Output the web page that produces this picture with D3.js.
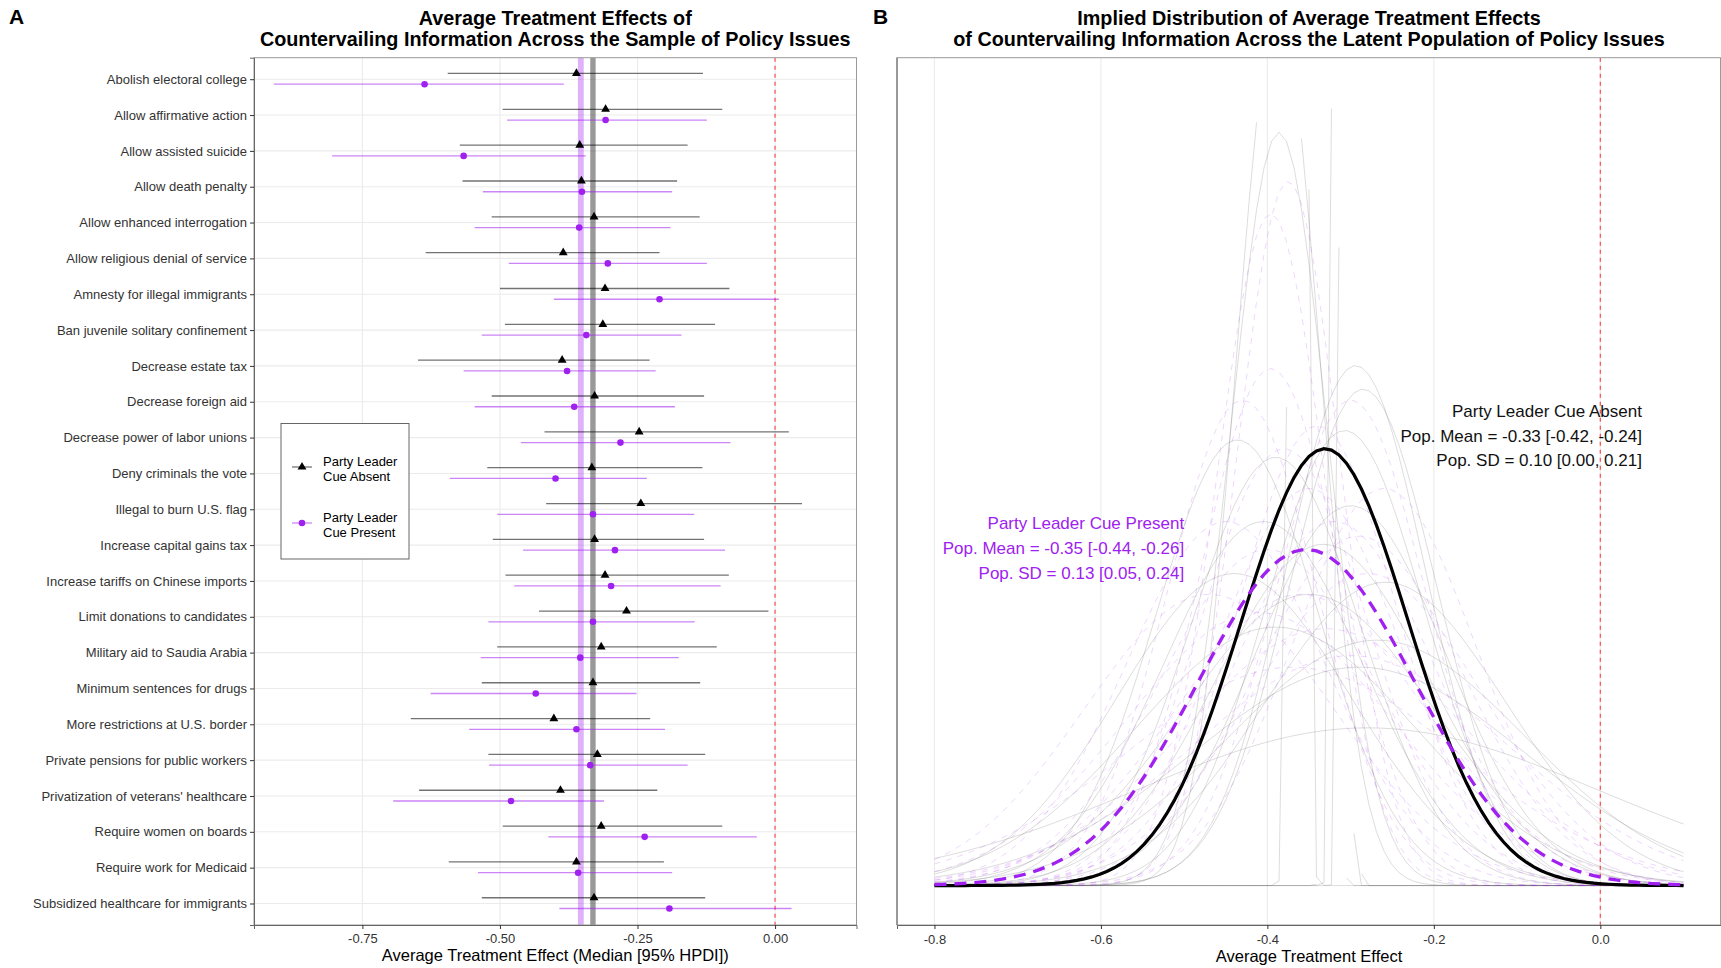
<!DOCTYPE html>
<html>
<head>
<meta charset="utf-8">
<script src="https://cdn.jsdelivr.net/npm/d3@7"></script>
<style>
  body { margin: 0; background: #fff; }
  svg text { font-family: "Liberation Sans", Arial, Helvetica, sans-serif; }
</style>
</head>
<body>
<svg width="1721" height="968"></svg>
<script>
// Policy issues, top to bottom
let issues = [
  "Abolish electoral college", "Allow affirmative action", "Allow assisted suicide",
  "Allow death penalty", "Allow enhanced interrogation", "Allow religious denial of service",
  "Amnesty for illegal immigrants", "Ban juvenile solitary confinement", "Decrease estate tax",
  "Decrease foreign aid", "Decrease power of labor unions", "Deny criminals the vote",
  "Illegal to burn U.S. flag", "Increase capital gains tax", "Increase tariffs on Chinese imports",
  "Limit donations to candidates", "Military aid to Saudia Arabia", "Minimum sentences for drugs",
  "More restrictions at U.S. border", "Private pensions for public workers",
  "Privatization of veterans' healthcare", "Require women on boards",
  "Require work for Medicaid", "Subsidized healthcare for immigrants"
];

// Party leader cue absent: median and 95% HPDI
let absentMed = [-0.361, -0.308, -0.355, -0.352, -0.329, -0.385, -0.309, -0.313, -0.387, -0.328, -0.247, -0.333,
                 -0.244, -0.328, -0.309, -0.270, -0.316, -0.331, -0.402, -0.323, -0.390, -0.316, -0.361, -0.329];
let absentLo  = [-0.595, -0.495, -0.573, -0.568, -0.515, -0.635, -0.500, -0.491, -0.649, -0.515, -0.419, -0.523,
                 -0.416, -0.513, -0.490, -0.429, -0.505, -0.533, -0.662, -0.521, -0.647, -0.495, -0.593, -0.533];
let absentHi  = [-0.131, -0.096, -0.159, -0.178, -0.137, -0.210, -0.083, -0.109, -0.228, -0.129, 0.025, -0.132,
                 0.049, -0.129, -0.084, -0.012, -0.106, -0.136, -0.227, -0.127, -0.214, -0.096, -0.202, -0.127];

// Party leader cue present: median and 95% HPDI
let presentMed = [-0.637, -0.308, -0.566, -0.351, -0.356, -0.304, -0.210, -0.343, -0.378, -0.365, -0.281, -0.399,
                  -0.331, -0.291, -0.298, -0.331, -0.354, -0.435, -0.361, -0.336, -0.480, -0.237, -0.358, -0.192];
let presentLo  = [-0.911, -0.487, -0.805, -0.531, -0.546, -0.484, -0.402, -0.533, -0.566, -0.546, -0.462, -0.591,
                  -0.505, -0.458, -0.474, -0.521, -0.535, -0.626, -0.556, -0.520, -0.694, -0.412, -0.540, -0.392];
let presentHi  = [-0.384, -0.124, -0.344, -0.187, -0.190, -0.124, 0.007, -0.170, -0.217, -0.182, -0.081, -0.233,
                  -0.147, -0.091, -0.099, -0.146, -0.175, -0.252, -0.200, -0.159, -0.311, -0.033, -0.187, 0.030];

// Population mean / sd (absent, present)
let popMean = [-0.331, -0.353];
let popSd = [0.10, 0.13];

// Posterior draws of the population distribution (mean, sd)
let absentDrawMean = [-0.387, -0.363, -0.322, -0.312, -0.3035, -0.386, -0.294, -0.285, -0.436, -0.307, -0.390,
                      -0.390, -0.268, -0.280, -0.333, -0.258, -0.290, -0.405, -0.350, -0.300, -0.440];
let absentDrawSd   = [0.050, 0.006, 0.0045, 0.005, 0.0045, 0.058, 0.084, 0.088, 0.098, 0.096, 0.102,
                      0.169, 0.178, 0.277, 0.128, 0.144, 0.200, 0.120, 0.150, 0.115, 0.140];
let presentDrawMean = [-0.375, -0.396, -0.396, -0.430, -0.300, -0.350, -0.320, -0.400, -0.280, -0.360,
                       -0.450, -0.330, -0.300, -0.380, -0.260, -0.340, -0.410, -0.290, -0.370, -0.470];
let presentDrawSd   = [0.062, 0.065, 0.0845, 0.090, 0.090, 0.110, 0.120, 0.130, 0.140, 0.150,
                       0.120, 0.170, 0.190, 0.100, 0.110, 0.095, 0.160, 0.125, 0.200, 0.150];

let ticksA = [-0.75, -0.50, -0.25, 0.00];
let ticksB = [-0.8, -0.6, -0.4, -0.2, 0.0];

let svg = d3.select("svg");
const purple = "#a020f0";

// ---------- Panel A ----------
let A = { left: 254, right: 856.5, top: 57.7, bottom: 925 };

let xA = d3.scaleLinear().domain([-0.947, 0.148]).range([A.left, A.right]);
let yA = d3.scalePoint().domain(issues).range([A.top, A.bottom]).padding(0.6);
let step = yA.step();

let gA = svg.append("g");

gA.append("rect")
    .attr("x", A.left).attr("y", A.top)
    .attr("width", A.right - A.left).attr("height", A.bottom - A.top)
    .attr("fill", "#fff");

// grid
gA.selectAll(".vgrid")
    .data(ticksA)
    .enter().append("line")
    .attr("x1", d => xA(d)).attr("x2", d => xA(d))
    .attr("y1", A.top).attr("y2", A.bottom)
    .style("stroke", "#ebebeb").style("stroke-width", 1.1);
gA.selectAll(".hgrid")
    .data(issues)
    .enter().append("line")
    .attr("x1", A.left).attr("x2", A.right)
    .attr("y1", d => yA(d)).attr("y2", d => yA(d))
    .style("stroke", "#ebebeb").style("stroke-width", 1.1);

// zero line
gA.append("line")
    .attr("x1", xA(0)).attr("x2", xA(0))
    .attr("y1", A.top).attr("y2", A.bottom)
    .style("stroke", "#ff3030").style("stroke-opacity", 0.85)
    .style("stroke-width", 1.2).style("stroke-dasharray", "4,4");

// population mean bands
gA.append("line")
    .attr("x1", xA(popMean[1])).attr("x2", xA(popMean[1]))
    .attr("y1", A.top).attr("y2", A.bottom)
    .style("stroke", purple).style("stroke-opacity", 0.35).style("stroke-width", 5.8);
gA.append("line")
    .attr("x1", xA(popMean[0])).attr("x2", xA(popMean[0]))
    .attr("y1", A.top).attr("y2", A.bottom)
    .style("stroke", "#000").style("stroke-opacity", 0.4).style("stroke-width", 5.4);

let offAbsent = -0.16 * step, offPresent = 0.14 * step;

// intervals
gA.selectAll(".absentBar")
    .data(issues)
    .enter().append("line")
    .attr("x1", (d, i) => xA(absentLo[i])).attr("x2", (d, i) => xA(absentHi[i]))
    .attr("y1", d => yA(d) + offAbsent).attr("y2", d => yA(d) + offAbsent)
    .style("stroke", "#000").style("stroke-opacity", 0.55).style("stroke-width", 1.3);
gA.selectAll(".presentBar")
    .data(issues)
    .enter().append("line")
    .attr("x1", (d, i) => xA(presentLo[i])).attr("x2", (d, i) => xA(presentHi[i]))
    .attr("y1", d => yA(d) + offPresent).attr("y2", d => yA(d) + offPresent)
    .style("stroke", purple).style("stroke-opacity", 0.55).style("stroke-width", 1.3);

// points
let tri = d3.symbol().type(d3.symbolTriangle).size(34);
gA.selectAll(".absentPt")
    .data(issues)
    .enter().append("path")
    .attr("d", tri)
    .attr("transform", (d, i) => "translate(" + xA(absentMed[i]) + "," + (yA(d) + offAbsent) + ")")
    .style("fill", "#000");
gA.selectAll(".presentPt")
    .data(issues)
    .enter().append("circle")
    .attr("cx", (d, i) => xA(presentMed[i]))
    .attr("cy", d => yA(d) + offPresent)
    .attr("r", 3.3)
    .style("fill", purple);

// border
gA.append("rect")
    .attr("x", A.left).attr("y", A.top)
    .attr("width", A.right - A.left).attr("height", A.bottom - A.top)
    .attr("fill", "none").style("stroke", "#9a9a9a").style("stroke-width", 1);

// axes
let axAy = gA.append("g")
    .attr("transform", "translate(" + A.left + ",0)")
    .call(d3.axisLeft(yA).tickSize(4).tickPadding(3));
let axAx = gA.append("g")
    .attr("transform", "translate(0," + A.bottom + ")")
    .call(d3.axisBottom(xA).tickValues(ticksA).tickFormat(d3.format(".2f")).tickSize(4).tickPadding(5));
[axAy, axAx].forEach(ax => {
    ax.select(".domain").style("stroke", "#666");
    ax.selectAll(".tick line").style("stroke", "#333");
    ax.selectAll("text").style("font-size", "13px").style("fill", "#333")
        .style("font-family", "'Liberation Sans', Arial, sans-serif");
});
axAx.selectAll("text").text(d => d3.format(".2f")(d).replace("−", "-"));

gA.append("text")
    .attr("x", (A.left + A.right) / 2).attr("y", 961)
    .attr("text-anchor", "middle")
    .style("font-size", "16.5px").style("fill", "#000")
    .text("Average Treatment Effect (Median [95% HPDI])");

// legend
let lg = gA.append("g");
lg.append("rect")
    .attr("x", 281).attr("y", 423.5).attr("width", 128).attr("height", 135.5)
    .attr("fill", "#fff").style("stroke", "#666").style("stroke-width", 1);
let legendRows = [
    { lines: ["Party Leader", "Cue Absent"], color: "#000", y: 467, shape: "tri" },
    { lines: ["Party Leader", "Cue Present"], color: purple, y: 523, shape: "circle" }
];
legendRows.forEach(r => {
    lg.append("line")
        .attr("x1", 292).attr("x2", 312).attr("y1", r.y).attr("y2", r.y)
        .style("stroke", r.color).style("stroke-opacity", 0.55).style("stroke-width", 1.3);
    if (r.shape === "tri") {
        lg.append("path").attr("d", tri).attr("transform", "translate(302," + r.y + ")").style("fill", r.color);
    } else {
        lg.append("circle").attr("cx", 302).attr("cy", r.y).attr("r", 3.3).style("fill", r.color);
    }
    r.lines.forEach((t, k) => {
        lg.append("text")
            .attr("x", 323).attr("y", r.y - 1.5 + k * 15)
            .style("font-size", "13px").style("fill", "#000")
            .text(t);
    });
});

// title
let titleA = ["Average Treatment Effects of", "Countervailing Information Across the Sample of Policy Issues"];
titleA.forEach((t, k) => {
    svg.append("text")
        .attr("x", (A.left + A.right) / 2).attr("y", 24.5 + k * 21)
        .attr("text-anchor", "middle")
        .style("font-size", "19.8px").style("font-weight", "bold").style("fill", "#000")
        .text(t);
});
svg.append("text").attr("x", 9).attr("y", 24)
    .style("font-size", "21px").style("font-weight", "bold").text("A");

// ---------- Panel B ----------
let B = { left: 897, right: 1721, top: 57.7, bottom: 925 };
let yMax = 7.2;
let expandY = (B.bottom - B.top) * 0.05 / 1.1;

let xB = d3.scaleLinear().domain([-0.845, 0.145]).range([B.left, B.right]);
let yB = d3.scaleLinear().domain([0, yMax]).range([B.bottom - expandY, B.top + expandY]);

let gB = svg.append("g");

gB.selectAll(".vgridB")
    .data(ticksB)
    .enter().append("line")
    .attr("x1", d => xB(d)).attr("x2", d => xB(d))
    .attr("y1", B.top).attr("y2", B.bottom)
    .style("stroke", "#ebebeb").style("stroke-width", 1.1);

// densities on a 101 point grid, values above the y limit are dropped
let grid = d3.range(101).map(i => -0.8 + 0.9 * i / 100);
function dnorm(x, m, s) {
    return Math.exp(-0.5 * ((x - m) / s) * ((x - m) / s)) / (s * Math.sqrt(2 * Math.PI));
}
function curve(m, s) {
    return grid.map(x => [x, dnorm(x, m, s)]);
}
let line = d3.line()
    .defined(d => d[1] <= yMax)
    .x(d => xB(d[0]))
    .y(d => yB(d[1]));

gB.selectAll(".absentDraw")
    .data(absentDrawMean)
    .enter().append("path")
    .attr("d", (d, i) => line(curve(d, absentDrawSd[i])))
    .attr("fill", "none")
    .style("stroke", "#555").style("stroke-opacity", 0.2).style("stroke-width", 1);

gB.selectAll(".presentDraw")
    .data(presentDrawMean)
    .enter().append("path")
    .attr("d", (d, i) => line(curve(d, presentDrawSd[i])))
    .attr("fill", "none")
    .style("stroke", purple).style("stroke-opacity", 0.18).style("stroke-width", 1)
    .style("stroke-dasharray", "6,6");

// zero line
gB.append("line")
    .attr("x1", xB(0)).attr("x2", xB(0))
    .attr("y1", B.top).attr("y2", B.bottom)
    .style("stroke", "#ff3030").style("stroke-opacity", 0.85)
    .style("stroke-width", 1.2).style("stroke-dasharray", "4,4");

gB.append("path")
    .attr("d", line(curve(popMean[0], popSd[0])))
    .attr("fill", "none")
    .style("stroke", "#000").style("stroke-width", 3.2);
gB.append("path")
    .attr("d", line(curve(popMean[1], popSd[1])))
    .attr("fill", "none")
    .style("stroke", purple).style("stroke-width", 3.3)
    .style("stroke-dasharray", "12,8");

gB.append("rect")
    .attr("x", B.left).attr("y", B.top)
    .attr("width", B.right - B.left - 0.5).attr("height", B.bottom - B.top)
    .attr("fill", "none").style("stroke", "#9a9a9a").style("stroke-width", 1);

let axBx = gB.append("g")
    .attr("transform", "translate(0," + B.bottom + ")")
    .call(d3.axisBottom(xB).tickValues(ticksB).tickFormat(d3.format(".1f")).tickSize(4).tickPadding(6));
axBx.select(".domain").style("stroke", "#666");
axBx.selectAll(".tick line").style("stroke", "#333");
axBx.selectAll("text").style("font-size", "13px").style("fill", "#333")
    .style("font-family", "'Liberation Sans', Arial, sans-serif")
    .text(d => d3.format(".1f")(d).replace("−", "-"));
gB.append("line")
    .attr("x1", B.left).attr("x2", B.left).attr("y1", B.top).attr("y2", B.bottom)
    .style("stroke", "#666");

gB.append("text")
    .attr("x", (B.left + B.right) / 2).attr("y", 962)
    .attr("text-anchor", "middle")
    .style("font-size", "16.5px").style("fill", "#000")
    .text("Average Treatment Effect");

// annotations (data coordinates)
let annAbsent = ["Party Leader Cue Absent", "Pop. Mean = -0.33 [-0.42, -0.24]", "Pop. SD = 0.10 [0.00, 0.21]"];
let annPresent = ["Party Leader Cue Present", "Pop. Mean = -0.35 [-0.44, -0.26]", "Pop. SD = 0.13 [0.05, 0.24]"];
let annAbsentY = [4.33, 4.11, 3.89];
let annPresentY = [3.31, 3.08, 2.85];

annAbsent.forEach((t, k) => {
    gB.append("text")
        .attr("x", xB(0.05)).attr("y", yB(annAbsentY[k]) + 6)
        .attr("text-anchor", "end")
        .style("font-size", "17px").style("fill", "#111")
        .text(t);
});
annPresent.forEach((t, k) => {
    gB.append("text")
        .attr("x", xB(-0.5)).attr("y", yB(annPresentY[k]) + 6)
        .attr("text-anchor", "end")
        .style("font-size", "17px").style("fill", purple)
        .text(t);
});

let titleB = ["Implied Distribution of Average Treatment Effects",
              "of Countervailing Information Across the Latent Population of Policy Issues"];
titleB.forEach((t, k) => {
    svg.append("text")
        .attr("x", (B.left + B.right) / 2).attr("y", 24.5 + k * 21)
        .attr("text-anchor", "middle")
        .style("font-size", "19.8px").style("font-weight", "bold").style("fill", "#000")
        .text(t);
});
svg.append("text").attr("x", 873).attr("y", 24)
    .style("font-size", "21px").style("font-weight", "bold").text("B");
</script>
</body>
</html>
